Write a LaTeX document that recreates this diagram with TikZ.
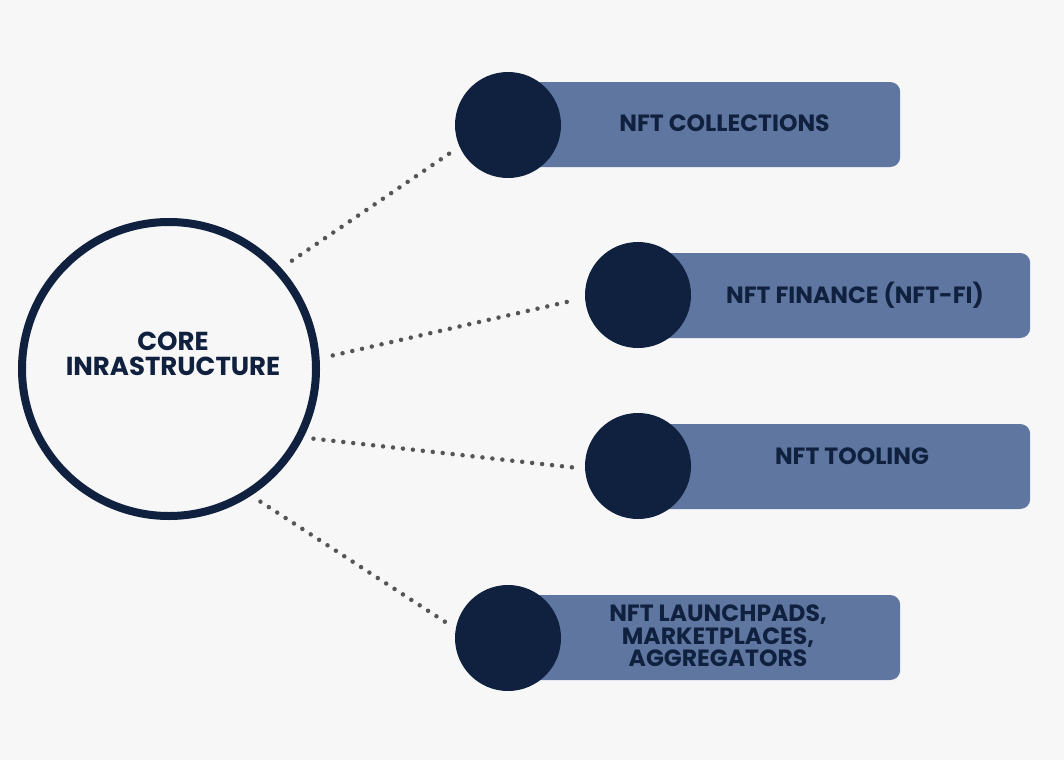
\documentclass[tikz,border=0pt]{standalone}
\usepackage{fontspec}
\setmainfont{Poppins}
\usetikzlibrary{positioning}

\definecolor{navy}{HTML}{10213F}
\definecolor{steel}{HTML}{5F76A0}
\definecolor{dotgray}{HTML}{555555}
\definecolor{paper}{HTML}{F7F7F7}

\tikzset{
  corering/.style={circle, draw=navy, line width=8pt, minimum size=294pt, inner sep=0pt},
  knob/.style={circle, fill=navy, minimum size=106pt, inner sep=0pt, outer sep=0pt},
  bar/.style={fill=steel, rounded corners=10pt, minimum width=392pt, minimum height=85pt, inner sep=0pt, anchor=west},
  bartext/.style={font=\bfseries\fontsize{23.5}{22.5}\selectfont, text=navy, align=center},
  coretext/.style={font=\bfseries\fontsize{26}{25}\selectfont, text=navy, align=center},
  dotline/.style={dotgray, line width=4.5pt, line cap=round, dash pattern=on 0pt off 10pt},
}

\begin{document}
\begin{tikzpicture}[x=1pt, y=-1pt]
  \useasboundingbox (0,0) rectangle (1064,760);
  \fill[paper] (0,0) rectangle (1064,760);

  % centre ring
  \node[corering] (core) at (169,369) {};
  \node[coretext] (coretxt) at (173,354) {CORE\\INRASTRUCTURE};

  % bars with knobs
  \node[bar] (b1) at (508,124.5) {};
  \node[knob] (c1) at (508,125) {};
  \node[bartext] (t1) at (724.5,123) {NFT COLLECTIONS};

  \node[bar] (b2) at (638,295.5) {};
  \node[knob] (c2) at (638,295) {};
  \node[bartext] (t2) at (855,295) {NFT FINANCE (NFT-FI)};

  \node[bar] (b3) at (638,466.5) {};
  \node[knob] (c3) at (638,466) {};
  \node[bartext] (t3) at (852,456) {NFT TOOLING};

  \node[bar] (b4) at (508,637.5) {};
  \node[knob] (c4) at (508,638) {};
  \node[bartext] (t4) at (718,636) {NFT LAUNCHPADS,\\MARKETPLACES,\\AGGREGATORS};

  % dotted links
  \draw[dotline, shorten <=13pt, shorten >=8pt] (core.42) -- (c1.204);
  \draw[dotline, shorten <=13.5pt, shorten >=10pt] (core.4.5) -- (c2.183);
  \draw[dotline, shorten <=10pt, shorten >=7pt] (core.-27) -- (c3.183);
  \draw[dotline, shorten <=11pt, shorten >=13pt] (core.-57) -- (c4.170);
\end{tikzpicture}
\end{document}
